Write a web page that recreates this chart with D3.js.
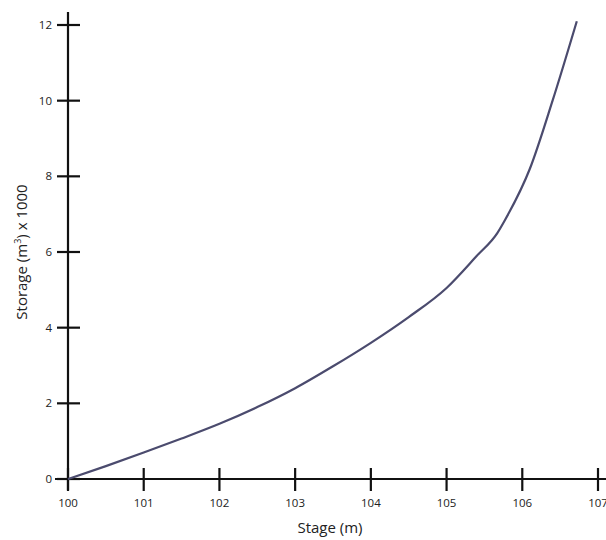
<!DOCTYPE html>
<html>
<head>
<meta charset="utf-8">
<script src="https://cdn.jsdelivr.net/npm/d3@7"></script>
<style>
  html, body { margin: 0; padding: 0; background: #fff; }
  svg { display: block; }
  text { font-family: "Open Sans", "Liberation Sans", sans-serif; fill: #222; }
</style>
</head>
<body>
<svg id="chart" width="606" height="540"></svg>
<script>
// Stage–storage relation
const stage   = [100, 100.5, 101, 101.5, 102, 102.5, 103, 103.5, 104, 104.5, 105, 105.4, 105.67, 105.77, 106.1, 106.4, 106.72];
const storage = [0, 0.34, 0.7, 1.07, 1.46, 1.9, 2.4, 2.98, 3.6, 4.28, 5.05, 5.9, 6.5, 6.84, 8.2, 10.0, 12.1];

const xTicks = [100, 101, 102, 103, 104, 105, 106, 107];
const yTicks = [0, 2, 4, 6, 8, 10, 12];

const svg = d3.select("#chart");

const x = d3.scaleLinear().domain([100, 107]).range([68, 598]);
const y = d3.scaleLinear().domain([0, 12]).range([479, 25]);

// Axis lines
svg.append("line")
  .attr("x1", x(100)).attr("x2", x(100))
  .attr("y1", 12).attr("y2", 490)
  .attr("stroke", "#111").attr("stroke-width", 2.2);
svg.append("line")
  .attr("x1", 55).attr("x2", 606)
  .attr("y1", y(0)).attr("y2", y(0))
  .attr("stroke", "#111").attr("stroke-width", 2.2);

// Ticks crossing the axes
svg.selectAll(".xtick").data(xTicks).join("line")
  .attr("class", "xtick")
  .attr("x1", d => x(d)).attr("x2", d => x(d))
  .attr("y1", y(0) - 11).attr("y2", y(0) + 12)
  .attr("stroke", "#111").attr("stroke-width", 2.2);
svg.selectAll(".ytick").data(yTicks).join("line")
  .attr("class", "ytick")
  .attr("x1", x(100) - 11).attr("x2", x(100) + 12)
  .attr("y1", d => y(d)).attr("y2", d => y(d))
  .attr("stroke", "#111").attr("stroke-width", 2.2);

// Tick labels (the last one runs off the right edge)
svg.selectAll(".xlabel").data(xTicks).join("text")
  .attr("class", "xlabel")
  .attr("x", d => x(d)).attr("y", 507)
  .attr("text-anchor", "middle")
  .attr("font-size", 11.5)
  .text(d => d);
svg.selectAll(".ylabel").data(yTicks).join("text")
  .attr("class", "ylabel")
  .attr("x", 52).attr("y", d => y(d) + 4)
  .attr("text-anchor", "end")
  .attr("font-size", 11.5)
  .text(d => d);

// Axis titles
svg.append("text")
  .attr("x", 330).attr("y", 533)
  .attr("text-anchor", "middle")
  .attr("font-size", 15)
  .text("Stage (m)");
const yt = svg.append("text")
  .attr("transform", "translate(27,252) rotate(-90)")
  .attr("text-anchor", "middle")
  .attr("font-size", 15);
yt.append("tspan").text("Storage (m");
yt.append("tspan").attr("font-size", 9).attr("dy", -6).text("3");
yt.append("tspan").attr("dy", 6).text(") x 1000");

// Curve
const line = d3.line()
  .x((d, i) => x(stage[i]))
  .y(d => y(d))
  .curve(d3.curveMonotoneX);
svg.append("path")
  .datum(storage)
  .attr("d", line)
  .attr("fill", "none")
  .attr("stroke", "#4b4b6e")
  .attr("stroke-width", 2.2);
</script>
</body>
</html>
